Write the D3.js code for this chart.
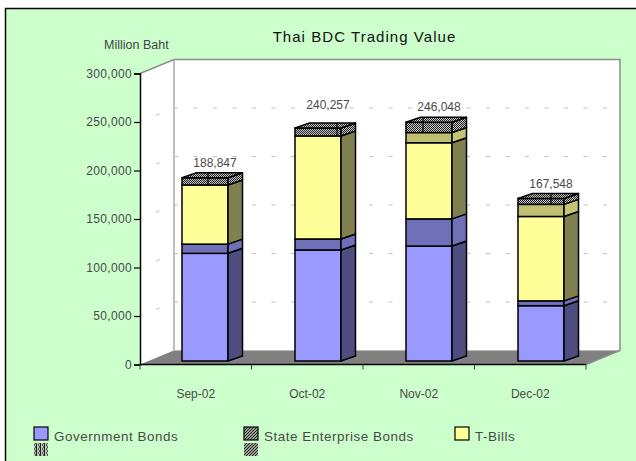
<!DOCTYPE html>
<html><head><meta charset="utf-8">
<script src="https://cdn.jsdelivr.net/npm/d3@7/dist/d3.min.js"></script>
<style>html,body{margin:0;padding:0;background:#fff}svg{display:block}
text{font-family:"Liberation Sans",Arial,sans-serif;fill:#4a4a4a}</style>
</head><body><script>
const categories=["Sep-02","Oct-02","Nov-02","Dec-02"];
const government=[111000,114500,118500,57000];
const stateEnterprise=[9500,11300,28000,5000];
const tBills=[61000,106200,78500,87000];
const otherBonds=[0,0,10500,12500];
const hatched=[7347,8257,10548,6048];
const totals=[188847,240257,246048,167548];
const yTicks=[0,50000,100000,150000,200000,250000,300000];
const legendItems=["Government Bonds","State Enterprise Bonds","T-Bills"];

const W=636,H=461;
const svg=d3.select("body").append("svg").attr("width",W).attr("height",H);
const defs=svg.append("defs");
function pat(id,size,bg,draw){
  const p=defs.append("pattern").attr("id",id).attr("patternUnits","userSpaceOnUse").attr("width",size).attr("height",size);
  p.append("rect").attr("width",size).attr("height",size).attr("fill",bg);
  draw(p);
}
pat("dither",2,"#c8c8c8",p=>{
  p.append("rect").attr("width",1).attr("height",1).attr("fill","#222");
  p.append("rect").attr("x",1).attr("y",1).attr("width",1).attr("height",1).attr("fill","#222");
});
pat("diag",3,"#9aa08f",p=>{
  p.append("path").attr("d","M0,3L3,0").attr("stroke","#222").attr("stroke-width",1);
});
pat("vert",4,"#b8c8b0",p=>{
  p.append("rect").attr("width",1).attr("height",4).attr("fill","#222");
  p.append("rect").attr("x",2).attr("width",1).attr("height",2).attr("fill","#555");
  p.append("rect").attr("x",3).attr("y",2).attr("width",1).attr("height",2).attr("fill","#555");
});

// chart area
svg.append("rect").attr("x",5.5).attr("y",8.5).attr("width",W).attr("height",H)
  .attr("fill","#ccffcc").attr("stroke","#000").attr("stroke-width",1.5);

const x0=140,x1=586,yBase=364.5,yTop=73.5,dX=34,dY=-14;
const x=d3.scaleBand().domain(categories).range([x0,x1]);
const y=d3.scaleLinear().domain([0,300000]).range([yBase,yTop]);

// walls
svg.append("path").attr("d",`M${x0},${yBase}L${x0},${yTop}L${x0+dX},${yTop+dY}L${x0+dX},${yBase+dY}Z`).attr("fill","#fff");
svg.append("rect").attr("x",x0+dX).attr("y",yTop+dY).attr("width",x1-x0).attr("height",yBase-yTop)
  .attr("fill","#fff");
svg.append("path").attr("d",`M${x0},${yBase}L${x0+dX},${yBase+dY}L${x1+dX},${yBase+dY}L${x1},${yBase}Z`).attr("fill","#808080");
svg.append("path").attr("d",`M${x0},${yTop}L${x0+dX},${yTop+dY}L${x1+dX},${yTop+dY}L${x1+dX},${yBase+dY}L${x1},${yBase}`)
  .attr("fill","none").attr("stroke","#8c8c8c").attr("stroke-width",1.5);
svg.append("line").attr("x1",x0+dX).attr("x2",x0+dX).attr("y1",yTop+dY).attr("y2",yBase+dY)
  .attr("stroke","#a8a8a8").attr("stroke-width",1.5);

// gridlines
yTicks.filter(t=>t>0&&t<300000).forEach(t=>{
  svg.append("path").attr("d",`M${x0},${y(t)}L${x0+dX},${y(t)+dY}L${x1+dX},${y(t)+dY}`)
    .attr("fill","none").attr("stroke","#c0c0c0").attr("stroke-dasharray","4 15.5").attr("stroke-dashoffset",2.2);
});

// bars
const rows=categories.map((c,i)=>({c,a:government[i],b:stateEnterprise[i],t:tBills[i],o:otherBonds[i],h:hatched[i]}));
const keys=["a","b","t","o","h"];
const stacked=d3.stack().keys(keys)(rows);
const front={a:"#9999ff",b:"#7070b8",t:"#ffff99",o:"#bfbf73",h:"url(#dither)"};
const side={a:"#4d4d80",b:"#7070b8",t:"#808050",o:"#c4c474",h:"url(#dither)"};
const barW=46,barOff=42,bdX=14.5,bdY=-5,baseLift=-3.5;
const nudge=[0,1.5,1,1.5];
const seamX=[26,42,17,33];
const fx=c=>x(c)+barOff+nudge[categories.indexOf(c)];
const by=v=>y(v)+baseLift;
stacked.forEach(s=>{
  const g=svg.append("g");
  s.forEach((d,i)=>{
    if(d[1]-d[0]<=0) return;
    const c=categories[i],l=fx(c),r=l+barW,t=by(d[1]),b=by(d[0]);
    g.append("rect").attr("x",l).attr("y",t).attr("width",barW).attr("height",b-t)
      .attr("fill",front[s.key]).attr("stroke","#000").attr("stroke-width",1.5);
    g.append("path").attr("d",`M${r},${b}L${r+bdX},${b+bdY}L${r+bdX},${t+bdY}L${r},${t}Z`)
      .attr("fill",side[s.key]).attr("stroke","#000").attr("stroke-width",1.5).attr("stroke-linejoin","round");
    if(s.key==="h"){
      g.append("path").attr("d",`M${l},${t}L${l+bdX},${t+bdY}L${r+bdX},${t+bdY}L${r},${t}Z`)
        .attr("fill",front.h).attr("stroke","#000").attr("stroke-width",1.5).attr("stroke-linejoin","round");
      g.append("line").attr("x1",l+seamX[i]).attr("x2",l+seamX[i]).attr("y1",t+bdY).attr("y2",b)
        .attr("stroke","#000").attr("stroke-width",1.2);
    }
  });
});

// axes
const yAxis=d3.axisLeft(y).tickValues(yTicks).tickFormat(d3.format(",")).tickSize(6).tickPadding(2);
const ya=svg.append("g").attr("transform",`translate(${x0},0)`).call(yAxis);
ya.select(".domain").attr("stroke","#000").attr("stroke-width",1.5);
ya.selectAll(".tick line").attr("stroke","#000").attr("stroke-width",1.2);
ya.selectAll("text").style("font-size","12px").style("font-family","'Liberation Sans',Arial,sans-serif").style("letter-spacing","0.35px").style("fill","#4a4a4a");

const boundaries=d3.range(categories.length+1).map(i=>x0+i*x.step());
const xb=svg.append("g");
xb.append("line").attr("x1",x0).attr("x2",x1).attr("y1",yBase).attr("y2",yBase).attr("stroke","#000").attr("stroke-width",1.5);
xb.selectAll("line.t").data(boundaries).join("line").attr("class","t")
  .attr("x1",d=>d).attr("x2",d=>d).attr("y1",yBase).attr("y2",yBase+5).attr("stroke","#444").attr("stroke-width",1);
svg.append("g").selectAll("text").data(categories).join("text")
  .attr("x",c=>x(c)+x.bandwidth()/2).attr("y",398).attr("text-anchor","middle")
  .style("font-size","12px").text(d=>d);

// total labels
const labelLift=[6,14,6,5];
svg.append("g").selectAll("text").data(totals).join("text")
  .attr("x",(d,i)=>fx(categories[i])+barW/2+10)
  .attr("y",(d,i)=>by(d)+bdY-labelLift[i])
  .attr("text-anchor","middle").style("font-size","12px").text(d3.format(","));

// titles
svg.append("text").attr("x",364.5).attr("y",42).attr("text-anchor","middle")
  .style("font-size","15px").style("fill","#111").style("letter-spacing","1.05px").text("Thai BDC Trading Value");
svg.append("text").attr("x",104).attr("y",49).style("font-size","12.5px").style("fill","#444").text("Million Baht");

// legend
const legendX=[34,244,455],legendFill=["#9999ff","url(#diag)","#ffff99"];
legendItems.forEach((name,i)=>{
  svg.append("rect").attr("x",legendX[i]).attr("y",427).attr("width",14).attr("height",13)
    .attr("fill",legendFill[i]).attr("stroke","#000").attr("stroke-width",1.2);
  svg.append("text").attr("x",legendX[i]+20).attr("y",441).style("font-size","13.4px").style("letter-spacing","0.55px").text(name);
});
svg.append("rect").attr("x",34).attr("y",443).attr("width",14).attr("height",13).attr("fill","url(#vert)");
svg.append("rect").attr("x",244).attr("y",443).attr("width",14).attr("height",13).attr("fill","url(#diag)");
</script></body></html>
